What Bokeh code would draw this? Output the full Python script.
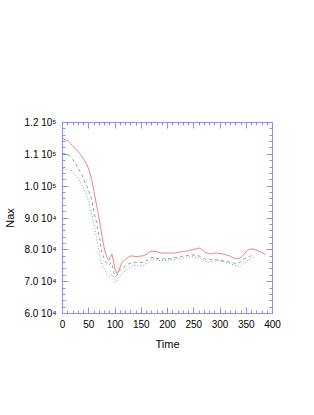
from bokeh.plotting import figure
from bokeh.models import LinearAxis, FixedTicker
from bokeh.embed import file_html
from bokeh.resources import INLINE

# ---- data ----
red_t = [0, 5, 10, 15, 20, 25, 30, 35, 40, 45, 50, 55, 60, 65, 70, 75, 80, 85, 88, 91, 94, 97, 100, 104, 108, 113,
         118, 124, 130, 140, 149, 155, 161, 168, 174, 180, 187, 195, 203, 212, 220, 231, 240, 250, 255, 260, 266,
         272, 278, 282, 287, 291, 297, 304, 312, 320, 325, 330, 335, 339, 345, 352, 357, 361, 367, 374, 380, 387]
red_v = [114900, 114600, 114300, 113500, 112500, 111700, 110800, 109800, 108600, 107200, 105400, 102500, 98300,
         94000, 89500, 84500, 80000, 77500, 76700, 77800, 78700, 76500, 74000, 72400, 73800, 76000, 76800, 77600,
         78100, 77900, 78000, 78200, 78700, 79500, 79600, 79400, 79000, 79000, 79000, 79000, 79200, 79500, 79700,
         80200, 80300, 80600, 80000, 79200, 78900, 78700, 78900, 79000, 78900, 78700, 78400, 78000, 77500, 77200,
         77300, 77500, 78500, 79800, 80200, 80300, 80100, 79600, 79100, 78400]

green_t = [0, 5, 10, 15, 20, 25, 30, 35, 40, 45, 50, 55, 60, 65, 70, 75, 80, 85, 89, 92, 95, 98, 101, 105, 110, 117,
           124, 130, 136, 145, 155, 162, 168, 174, 180, 187, 195, 206, 215, 225, 235, 244, 252, 260, 266, 272, 280,
           288, 296, 304, 312, 320, 327, 333, 339, 345, 352, 358, 363]
green_v = [110300, 110200, 110000, 109200, 108300, 107000, 105600, 104100, 102400, 100400, 98600, 96000, 92000,
           88500, 84000, 79200, 77000, 75600, 75200, 76000, 75000, 72800, 71600, 72300, 73800, 74600, 75400, 75900,
           76100, 76000, 76100, 76800, 77600, 77500, 77300, 77100, 77200, 77300, 77600, 77900, 78200, 78400, 78300,
           78100, 77600, 77100, 77000, 76900, 76800, 76600, 76400, 76100, 75800, 75600, 76200, 77100, 77600, 78100,
           78200]

blue_t = [0, 5, 10, 15, 20, 25, 30, 35, 40, 45, 50, 55, 60, 65, 70, 75, 80, 85, 89, 92, 95, 98, 101, 105, 110, 117,
          124, 130, 136, 145, 155, 162, 168, 174, 180, 187, 195, 206, 215, 225, 235, 244, 252, 260, 268, 274, 279,
          286, 295, 303, 311, 318, 326, 333, 339, 345, 352, 358, 364]
blue_v = [105600, 105400, 105200, 105000, 104600, 103600, 102300, 100900, 99300, 97600, 95000, 91500, 88000, 83500,
          78800, 75500, 73800, 72300, 71600, 71900, 72300, 70800, 69800, 70600, 72000, 73000, 74000, 74800, 75100,
          75000, 75100, 75900, 76900, 76900, 76800, 76600, 76700, 76900, 77100, 77300, 77600, 77900, 77700, 77500,
          76800, 76300, 76100, 76400, 76600, 76300, 76100, 75700, 75300, 74900, 74800, 75600, 76600, 77200, 77600]

x_ticks = [0, 50, 100, 150, 200, 250, 300, 350, 400]
y_ticks = [60000, 70000, 80000, 90000, 100000, 110000, 120000]
y_labels = ["6.0 10\u2074", "7.0 10\u2074", "8.0 10\u2074", "9.0 10\u2074",
            "1.0 10\u2075", "1.1 10\u2075", "1.2 10\u2075"]

AX = "#8c8cf2"
FONT = "Liberation Sans"

p = figure(frame_width=210, frame_height=191, x_range=(0, 400), y_range=(60000, 120000),
           output_backend="svg", toolbar_location=None,
           min_border_left=62, min_border_right=34, min_border_top=122, min_border_bottom=94,
           x_axis_label="Time", y_axis_label="Nax")
p.grid.visible = False
p.outline_line_color = AX
p.background_fill_color = "white"
p.border_fill_color = "white"

p.line(red_t, red_v, line_color="#f37474", line_width=0.9)
p.line(green_t, green_v, line_color="#66aa66", line_width=0.9, line_dash="3 3")
p.line(blue_t, blue_v, line_color="#7878f2", line_width=0.9, line_dash="1 2")

def style(ax, ticks, labels=True):
    step = (ticks[1] - ticks[0]) / 5
    ax.ticker = FixedTicker(ticks=ticks,
                            minor_ticks=[ticks[0] + i * step for i in range(5 * (len(ticks) - 1) + 1)])
    ax.axis_line_color = AX
    ax.major_tick_line_color = AX
    ax.minor_tick_line_color = AX
    ax.major_tick_in = 6
    ax.major_tick_out = 0
    ax.minor_tick_in = 3
    ax.minor_tick_out = 0
    ax.major_label_text_font = FONT
    ax.major_label_text_font_size = "10px"
    ax.major_label_text_color = "black"
    ax.axis_label_text_font = FONT
    ax.axis_label_text_font_size = "11px"
    ax.axis_label_text_font_style = "normal"
    ax.axis_label_text_color = "black"
    if not labels:
        ax.major_label_text_alpha = 0
        ax.major_label_text_font_size = "1px"

style(p.xaxis[0], x_ticks)
style(p.yaxis[0], y_ticks)
p.yaxis[0].major_label_overrides = {t: l for t, l in zip(y_ticks, y_labels)}
p.xaxis[0].major_label_standoff = 6
p.xaxis[0].axis_label_standoff = 7
p.yaxis[0].major_label_standoff = 6
p.yaxis[0].axis_label_standoff = 5

ra = LinearAxis()
style(ra, y_ticks, labels=False)
p.add_layout(ra, "right")
ta = LinearAxis()
style(ta, x_ticks, labels=False)
p.add_layout(ta, "above")

open("out.html", "w").write(file_html(p, INLINE))
